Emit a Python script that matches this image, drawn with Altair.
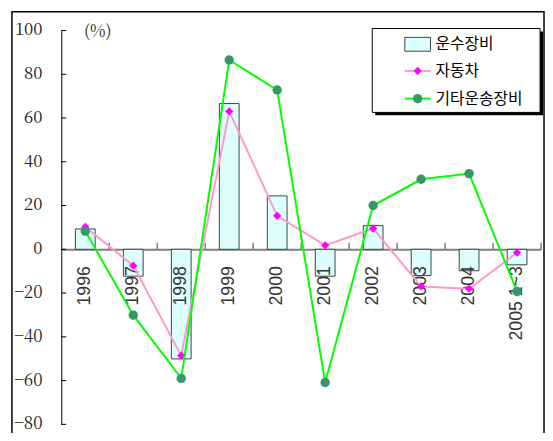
import altair as alt
import pandas as pd

categories = ["1996", "1997", "1998", "1999", "2000", "2001", "2002", "2003", "2004", "2005 1~3"]
transport_equipment = [9.3, -12.3, -50.1, 66.6, 24.4, -12.3, 10.8, -12.0, -9.8, -7.1]
automobiles = [10.2, -7.5, -48.6, 63.0, 15.3, 1.8, 9.5, -17.0, -18.0, -1.5]
other_transport = [8.3, -30.1, -59.0, 86.5, 72.8, -60.9, 20.0, 32.0, 34.6, -19.3]
series_names = ["운수장비", "자동차", "기타운송장비"]
y_ticks = list(range(-80, 101, 20))
unit_label = "(%)"

df = pd.DataFrame({
    "cat": categories,
    "bar": transport_equipment,
    "auto": automobiles,
    "other": other_transport,
})
tick_df = pd.DataFrame({"v": y_ticks})
one = pd.DataFrame({"k": [0]})

W, H = 486, 399
BAR_FILL = "#DDFFFF"
BAR_STROKE = "#404040"
PINK = "#FF99CC"
MAGENTA = "#FF00FF"
GREEN = "#00FF00"
DKGREEN = "#339966"
SERIF = "Noto Serif CJK KR"
SANS = "Liberation Sans"

x_axis = alt.Axis(title=None, labels=False, offset=-177.33, ticks=False,
                  domainColor="#808080", domainWidth=2)
x_scale = alt.Scale(paddingInner=0, paddingOuter=0)
y_axis = alt.Axis(title=None, labels=False, values=y_ticks, ticks=False, grid=False,
                  domainColor="black")
y_scale = alt.Scale(domain=[-80, 100], nice=False, zero=False)

X = alt.X("cat:N", sort=categories, scale=x_scale, axis=x_axis)
Y = lambda f: alt.Y(f"{f}:Q", scale=y_scale, axis=y_axis)

border = alt.Chart(one).mark_rect(fillOpacity=0, stroke="black", strokeWidth=1.5).encode(
    x=alt.value(-50), x2=alt.value(489), y=alt.value(-19), y2=alt.value(430))

bars = alt.Chart(df).mark_bar(size=20, fill=BAR_FILL, stroke=BAR_STROKE, strokeWidth=1).encode(
    x=X, y=Y("bar"))

xticks = alt.Chart(df).mark_rule(color="#808080", strokeWidth=1.5).encode(
    x=alt.X("cat:N", sort=categories, scale=x_scale, axis=x_axis, bandPosition=1),
    y=alt.datum(0), y2=alt.datum(3))

yticks = alt.Chart(tick_df).mark_rule(color="black").encode(
    y=alt.Y("v:Q", scale=y_scale, axis=y_axis), x=alt.value(0), x2=alt.value(5))

ylabels = alt.Chart(tick_df).mark_text(align="right", baseline="middle", font=SERIF,
                                       fontSize=17, color="#222222").encode(
    y=alt.Y("v:Q", scale=y_scale, axis=y_axis), x=alt.value(-19), text="v:Q")

unit = alt.Chart(one).mark_text(align="left", baseline="middle", font=SERIF,
                                fontSize=17, color="#222222").encode(
    x=alt.value(23), y=alt.value(2), text=alt.value(unit_label))

xlabels = alt.Chart(df).mark_text(angle=270, align="right", baseline="middle", font=SANS,
                                  fontSize=18, color="#333333", dx=-17).encode(
    x=X, y=alt.datum(0), text="cat:N")

auto_line = alt.Chart(df).mark_line(color=PINK, strokeWidth=2).encode(x=X, y=Y("auto"))
auto_pts = alt.Chart(df).mark_point(shape="diamond", filled=True, color=MAGENTA, size=70,
                                    opacity=1).encode(x=X, y=Y("auto"))
other_line = alt.Chart(df).mark_line(color=GREEN, strokeWidth=2).encode(x=X, y=Y("other"))
other_pts = alt.Chart(df).mark_point(shape="circle", filled=True, color=DKGREEN, size=90,
                                     opacity=1).encode(x=X, y=Y("other"))

# legend
leg_shadow = alt.Chart(one).mark_rect(fill="black").encode(
    x=alt.value(318), x2=alt.value(488), y=alt.value(1), y2=alt.value(86))
leg_box = alt.Chart(one).mark_rect(fill="white", stroke="black", strokeWidth=1).encode(
    x=alt.value(315), x2=alt.value(485), y=alt.value(-2), y2=alt.value(83))
leg_sym1 = alt.Chart(one).mark_rect(fill=BAR_FILL, stroke=BAR_STROKE, strokeWidth=1).encode(
    x=alt.value(348), x2=alt.value(374), y=alt.value(7), y2=alt.value(21))
leg_line2 = alt.Chart(one).mark_rule(color=PINK, strokeWidth=2).encode(
    x=alt.value(348), x2=alt.value(374), y=alt.value(41))
leg_pt2 = alt.Chart(one).mark_point(shape="diamond", filled=True, color=MAGENTA, size=70,
                                    opacity=1).encode(x=alt.value(361), y=alt.value(41))
leg_line3 = alt.Chart(one).mark_rule(color=GREEN, strokeWidth=2).encode(
    x=alt.value(348), x2=alt.value(374), y=alt.value(69))
leg_pt3 = alt.Chart(one).mark_point(shape="circle", filled=True, color=DKGREEN, size=90,
                                    opacity=1).encode(x=alt.value(361), y=alt.value(69))
leg_texts = [
    alt.Chart(one).mark_text(align="left", baseline="middle", font="Noto Sans CJK KR",
                             fontSize=16, color="black").encode(
        x=alt.value(379), y=alt.value(yy), text=alt.value(name))
    for name, yy in zip(series_names, [14, 41, 69])
]

chart = alt.layer(
    border, bars, xticks, yticks, ylabels, unit, xlabels,
    auto_line, auto_pts, other_line, other_pts,
    leg_shadow, leg_box, leg_sym1, leg_line2, leg_pt2, leg_line3, leg_pt3, *leg_texts
).properties(
    width=W, height=H,
    autosize=alt.AutoSizeParams(type="none"),
    padding={"left": 54, "top": 20, "right": 4, "bottom": 6},
    background="white",
).configure_view(stroke=None)

chart.save("out.html", embed_options={"renderer": "svg", "actions": False})
